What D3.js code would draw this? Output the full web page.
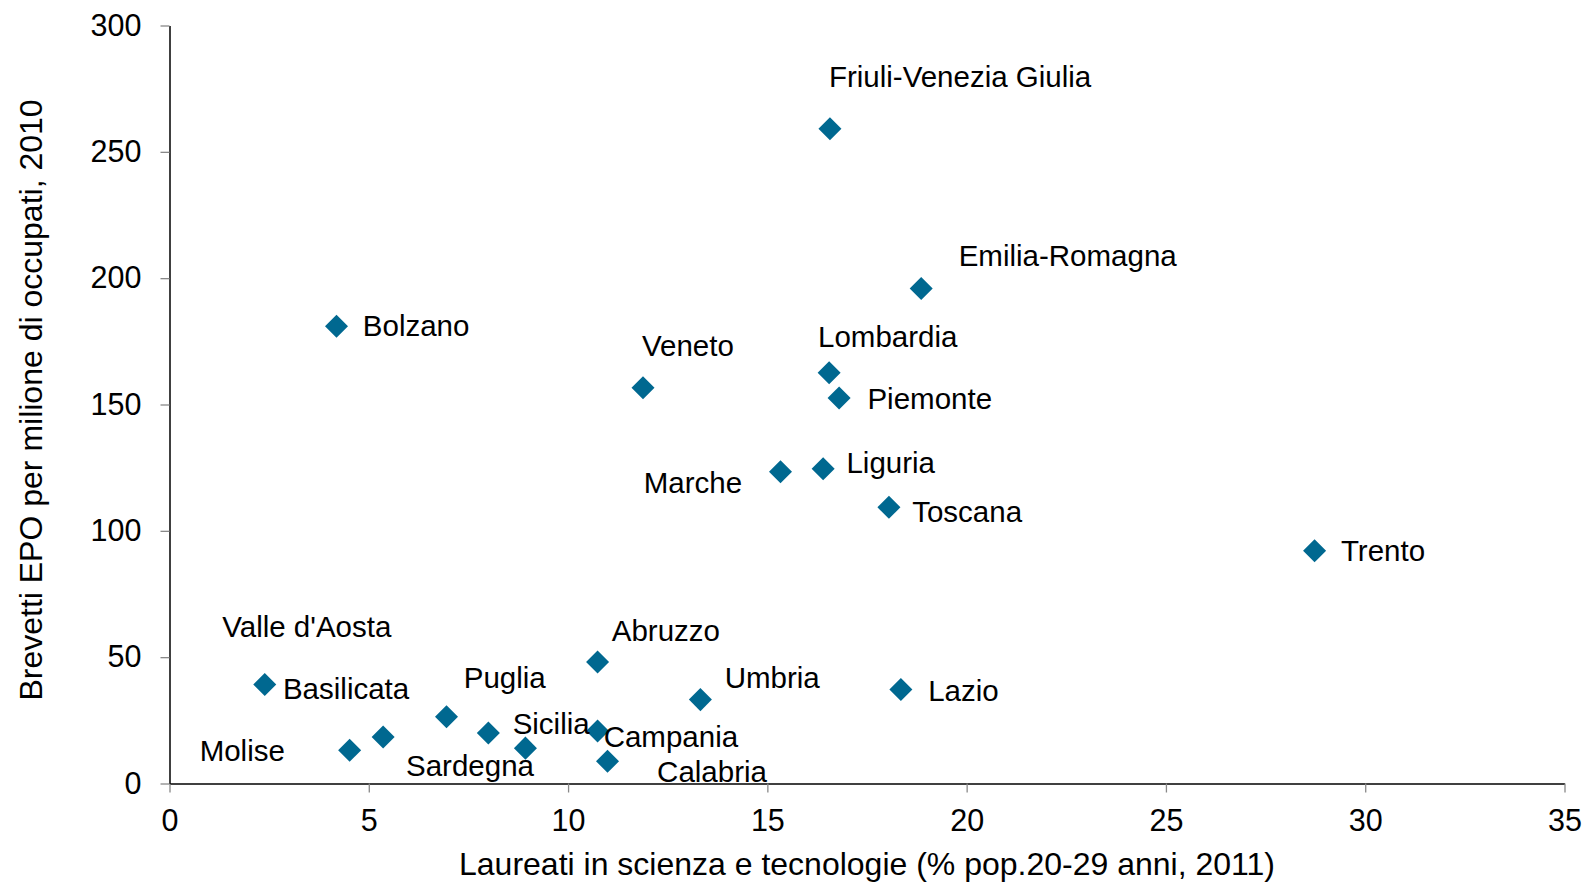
<!DOCTYPE html>
<html lang="it">
<head>
<meta charset="utf-8">
<script src="https://d3js.org/d3.v7.min.js"></script>
<style>
    html, body { margin: 0; padding: 0; background: #fff; }
    svg { display: block; }
    text { font-family: "Liberation Sans", Arial, sans-serif; fill: #000; }
    .tick text { font-size: 30.5px; }
    .tick line { stroke: #888; stroke-width: 1.3; }
    .domain { stroke: #000; stroke-width: 1.5; }
    .lbl { font-size: 29.5px; }
    .title { font-size: 32px; }
</style>
</head>
<body>
<svg id="chart"></svg>
<script>
    // regioni
    var regions = ["Friuli-Venezia Giulia", "Emilia-Romagna", "Bolzano", "Lombardia", "Veneto", "Piemonte",
        "Marche", "Liguria", "Toscana", "Trento", "Abruzzo", "Valle d'Aosta", "Basilicata", "Molise",
        "Puglia", "Sicilia", "Sardegna", "Campania", "Calabria", "Umbria", "Lazio"];
    // laureati S&T (% pop. 20-29)
    var laureati = [16.57, 18.86, 4.19, 16.55, 11.88, 16.80, 15.33, 16.40, 18.05, 28.73, 10.74, 2.39, 5.36, 4.52,
        6.95, 8.0, 8.93, 10.74, 10.99, 13.32, 18.35];
    // brevetti EPO per milione di occupati
    var brevetti = [259.1, 195.9, 181.0, 162.6, 156.6, 152.6, 123.4, 124.6, 109.3, 92.1, 48.1, 39.2, 18.4, 13.2,
        26.4, 20.0, 14.0, 20.8, 8.8, 33.2, 37.2];
    // label placement [dx, dy, anchor]
    var labelPos = [[-1, -41, "start"], [37, -22, "start"], [26, 10, "start"], [-11, -25, "start"],
        [-1, -31, "start"], [28, 11, "start"], [-38, 21, "end"], [23, 4, "start"], [23, 14, "start"],
        [26, 10, "start"], [14, -21, "start"], [-42, -47, "start"], [-99, -38, "start"], [-64, 11, "end"],
        [17, -28, "start"], [24, 1, "start"], [-118, 28, "start"], [6, 16, "start"], [49, 20, "start"],
        [24, -11, "start"], [27, 11, "start"]];

    var xTicks = [0, 5, 10, 15, 20, 25, 30, 35],
        yTicks = [0, 50, 100, 150, 200, 250, 300];

    var width = 1587, height = 884;
    var margin = {top: 25.5, right: 22.5, bottom: 100.5, left: 169.5};

    var svg = d3.select("#chart").attr("width", width).attr("height", height);

    var x = d3.scaleLinear().domain([0, 35]).range([margin.left, width - margin.right]);
    var y = d3.scaleLinear().domain([0, 300]).range([height - margin.bottom, margin.top]);

    svg.append("g")
        .attr("transform", "translate(0," + (height - margin.bottom) + ")")
        .call(d3.axisBottom(x).tickValues(xTicks).tickSize(9).tickPadding(17).tickSizeOuter(0))
        .call(function (g) { g.selectAll(".tick text").attr("dy", "0.71em"); });

    svg.append("g")
        .attr("transform", "translate(" + margin.left + ",0)")
        .call(d3.axisLeft(y).tickValues(yTicks).tickSize(9).tickPadding(19).tickSizeOuter(0));

    svg.selectAll(".domain").attr("stroke", "#000");

    // axis titles
    svg.append("text")
        .attr("class", "title")
        .attr("text-anchor", "middle")
        .attr("x", (margin.left + width - margin.right) / 2 + 0)
        .attr("y", 875)
        .text("Laureati in scienza e tecnologie (% pop.20-29 anni, 2011)");

    svg.append("text")
        .attr("class", "title")
        .attr("text-anchor", "middle")
        .attr("transform", "translate(42," + 400 + ") rotate(-90)")
        .text("Brevetti EPO per milione di occupati, 2010");

    var pts = regions.map(function (r, i) {
        return {name: r, x: laureati[i], y: brevetti[i], pos: labelPos[i]};
    });

    var sym = d3.symbol().type(d3.symbolSquare).size(265);

    svg.append("g").selectAll("path")
        .data(pts)
        .enter().append("path")
        .attr("d", sym)
        .attr("fill", "#006890")
        .attr("transform", function (d) {
            return "translate(" + x(d.x) + "," + y(d.y) + ") rotate(45)";
        });

    svg.append("g").selectAll("text")
        .data(pts)
        .enter().append("text")
        .attr("class", "lbl")
        .attr("text-anchor", function (d) { return d.pos[2]; })
        .attr("x", function (d) { return x(d.x) + d.pos[0] * 1.012; })
        .attr("y", function (d) { return y(d.y) + d.pos[1] * 1.012; })
        .text(function (d) { return d.name; });
</script>
</body>
</html>
